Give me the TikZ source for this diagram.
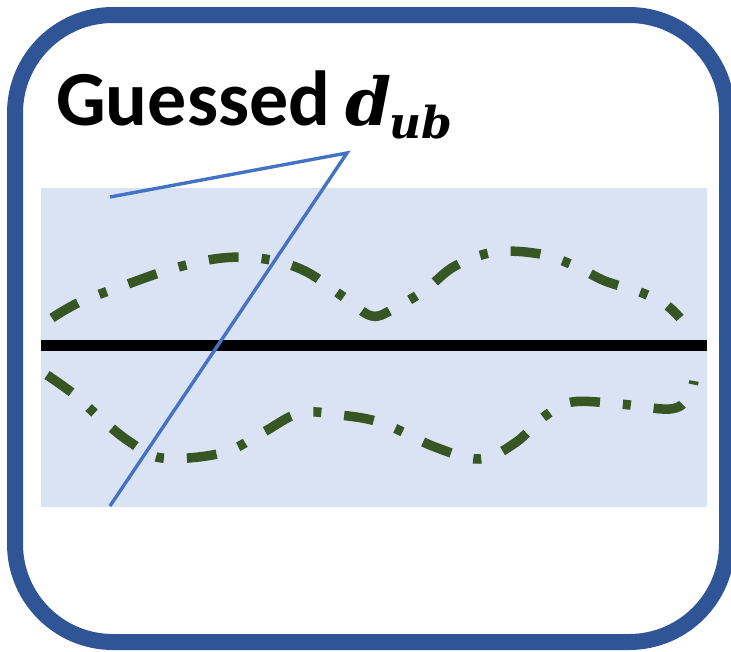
\documentclass[tikz,border=0pt]{standalone}
\usepackage{fontspec}
\setmainfont{Carlito}
\newfontfamily\mathserif{DejaVu Serif}
\definecolor{frameblue}{HTML}{2F5597}
\definecolor{bandfill}{HTML}{DAE3F3}
\definecolor{pointerblue}{HTML}{4472C4}
\definecolor{bounddark}{HTML}{375623}
\tikzset{
  framebox/.style={draw=frameblue, line width=16pt, rounded corners=98pt},
  band/.style={fill=bandfill, draw=none},
  axisline/.style={draw=black, line width=11pt},
  pointer/.style={draw=pointerblue, line width=3.4pt},
  bound/.style={draw=bounddark, line width=9.5pt, dash pattern=on 30pt off 23pt on 8pt off 23pt},
  titletext/.style={inner sep=0pt, anchor=base west, font=\fontsize{78}{90}\selectfont\bfseries}
}
\begin{document}
\begin{tikzpicture}[x=1pt, y=-1pt]
\useasboundingbox (0,0) rectangle (731,651);
\draw[framebox] (15,15) rectangle (727,642);
\fill[band] (41,188) rectangle (707,507);
\draw[axisline] (41,345) -- (707,345);
% upper bound curve
\draw[bound] plot[smooth, tension=0.6] coordinates {(52,318) (80,302) (128,284) (175,268) (222,258) (265,259) (305,271) (345,298) (372,316) (395,308) (425,290) (455,266) (495,252) (540,254) (575,266) (605,281) (640,292) (665,304) (680,318)};
% lower bound curve
\draw[bound] plot[smooth, tension=0.6] coordinates {(47,375) (75,395) (100,418) (130,442) (162,458) (222,453) (262,433) (300,413) (340,415) (382,423) (435,447) (480,459) (515,443) (545,416) (572,402) (620,404) (670,409) (688,398) (694,381)};
% label and pointer
\node[titletext] (title) at (56,125) {Guessed\hspace{-3pt} {\fontsize{66}{70}\selectfont\mathserif\bfseries\itshape d}\hspace{-2pt}\raisebox{-13pt}{\fontsize{44}{48}\selectfont\mathserif\bfseries\itshape ub}};
\coordinate (ptrstart) at (110,197);
\coordinate (ptrapex) at (347,153);
\coordinate (ptrend) at (110,506);
\draw[pointer] (ptrstart) -- (ptrapex) -- (ptrend);
\end{tikzpicture}
\end{document}
